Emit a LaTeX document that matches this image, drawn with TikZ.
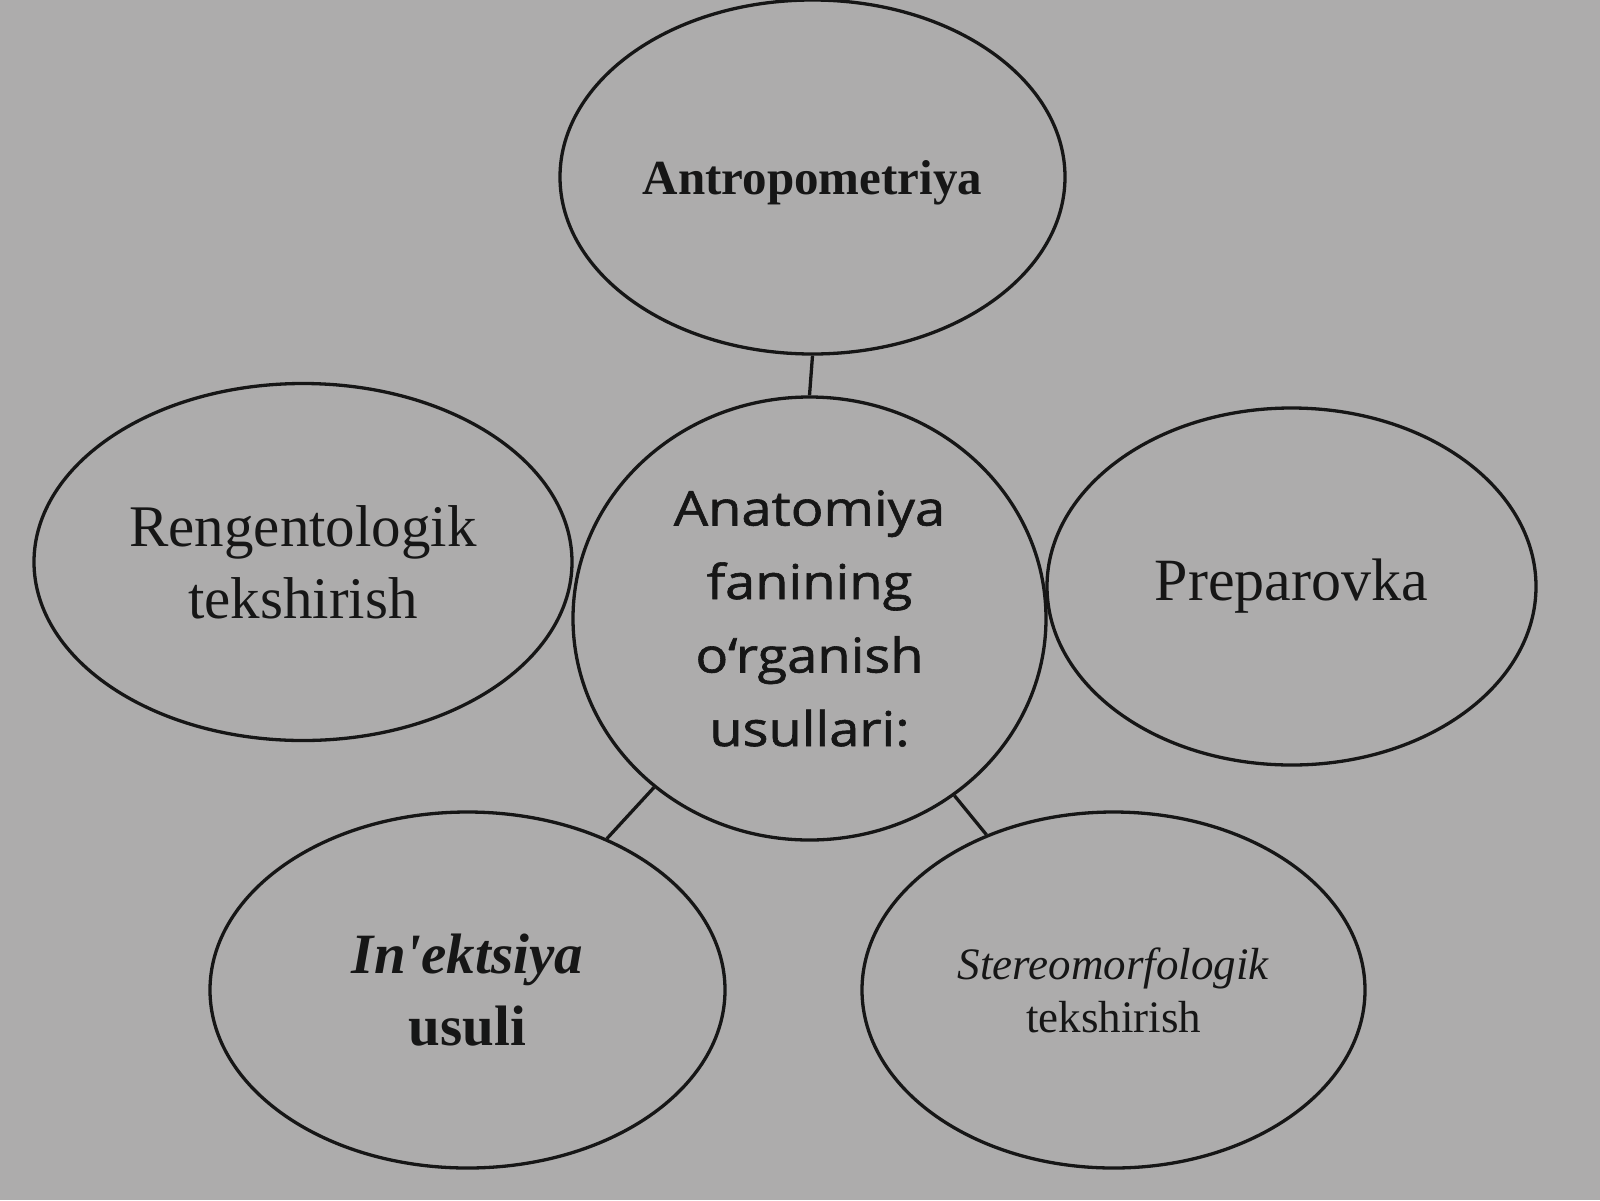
\documentclass[tikz,border=0pt]{standalone}
\usepackage{fontspec}
\setmainfont{Liberation Serif}
\newfontfamily\centerfont[FakeBold=1.2]{Open Sans}
\usetikzlibrary{shapes.geometric}
\definecolor{bggray}{RGB}{173,172,172}
\definecolor{inkcol}{RGB}{22,22,22}
\begin{document}
\begin{tikzpicture}[x=1pt,y=-1pt,
  oval/.style={ellipse, draw=inkcol, line width=3.3pt, inner sep=0pt, align=center, text=inkcol},
  link/.style={draw=inkcol, line width=3.3pt}]
\path[fill=bggray, use as bounding box] (0,0) rectangle (1600,1200);

\node[oval, minimum width=505pt, minimum height=354pt, text depth=0pt,
      font=\fontsize{49}{59}\selectfont\bfseries] (antro) at (812.5,177) {Antropometriya};

\node[oval, minimum width=473pt, minimum height=443pt,
      font=\centerfont\fontsize{48}{73.5}\selectfont] (core) at (809.5,618.5)
  {\scalebox{1.13}[1]{Anatomiya}\\\scalebox{1.13}[1]{fanining}\\\scalebox{1.13}[1]{o‘rganish}\\\scalebox{1.13}[1]{usullari:}};

\node[oval, minimum width=538pt, minimum height=357pt,
      font=\fontsize{59}{72}\selectfont] (rentgen) at (303,562) {Rengentologik\\tekshirish};

\node[oval, minimum width=489pt, minimum height=357pt,
      font=\fontsize{60}{72}\selectfont] (prep) at (1291.5,586.5) {Preparovka};

\node[oval, minimum width=515pt, minimum height=356pt,
      font=\fontsize{57}{72}\selectfont\bfseries] (inj) at (467.5,990) {\textit{In\textquotesingle ektsiya}\\usuli};

\node[oval, minimum width=503pt, minimum height=356pt,
      font=\fontsize{45}{53}\selectfont] (stereo) at (1113.5,990) {\textit{Stereomorfologik}\\tekshirish};

\draw[link] (antro.south) -- (core.north);
\draw[link] (core) -- (inj);
\draw[link] (core) -- (stereo);
\end{tikzpicture}
\end{document}
